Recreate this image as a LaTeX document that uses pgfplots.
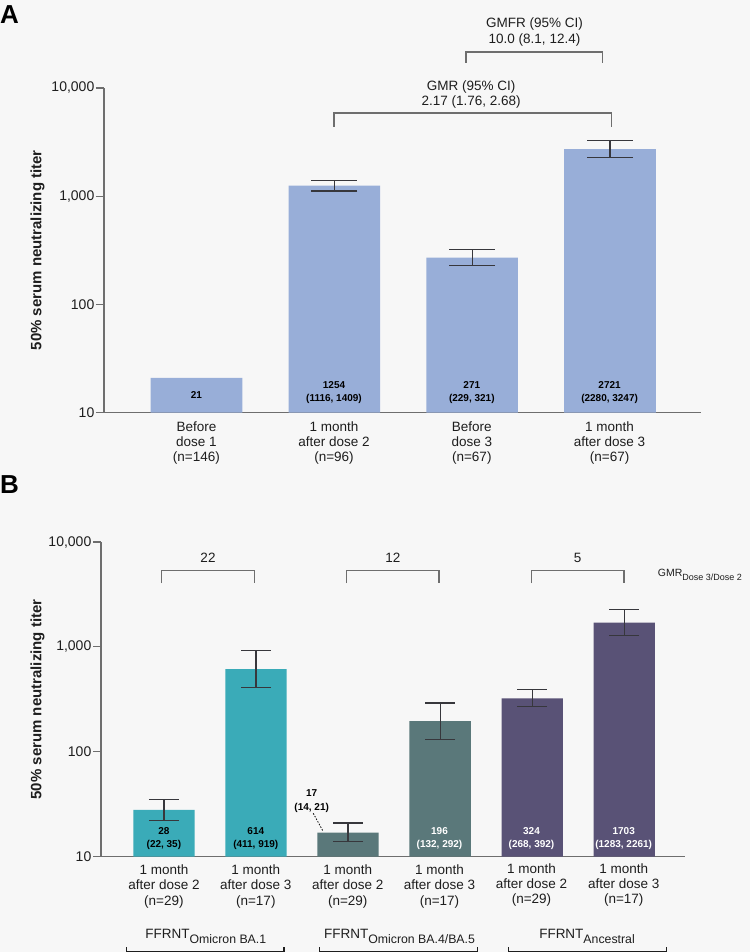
\documentclass[border=0pt]{standalone}
\usepackage{pgfplots}
\pgfplotsset{compat=1.18}
\usepackage{fontspec}
\setmainfont{Liberation Sans}
\definecolor{bg}{RGB}{247,247,247}
\definecolor{barA}{RGB}{152,174,216}
\definecolor{tealB}{RGB}{58,171,184}
\definecolor{grayB}{RGB}{90,120,122}
\definecolor{purpB}{RGB}{89,82,118}
\definecolor{axcol}{RGB}{110,110,110}
\definecolor{errcol}{RGB}{55,55,60}
\definecolor{txt}{RGB}{30,30,30}
\newcommand\fcat{\fontsize{13.5pt}{16pt}\selectfont}
\newcommand\fval{\fontsize{10pt}{12pt}\selectfont\bfseries}
\newcommand\ftick{\fontsize{14pt}{16pt}\selectfont}
\newcommand\fylab{\fontsize{15pt}{18pt}\selectfont\bfseries}
\newcommand\fpanel{\fontsize{26pt}{30pt}\selectfont\bfseries}
\newcommand\tl[3]{\node[anchor=base, inner sep=0, font=\fcat, text=txt] at (#1,-#2) {#3};}
\newcommand\vl[4]{\node[anchor=base, inner sep=0, font=\fval, text=#4] at (#1,-#2) {#3};}
\begin{document}
\begin{tikzpicture}[x=1pt,y=1pt]
\fill[bg] (0,0) rectangle (750,-952);
\useasboundingbox (0,0) rectangle (750,-952);
\begin{scope}
\clip (0,0) rectangle (750,-952);
% ---------------- Panel A ----------------
\begin{axis}[scale only axis, anchor=south west,
    at={(104pt,-412.7pt)}, width=597pt, height=324.7pt,
    xmin=-0.671, xmax=3.66,
    ymode=log, ymin=10, ymax=10000, log origin=infty,
    axis x line*=bottom, axis y line*=left,
    axis line style={axcol, line width=1.3pt, -},
    xtick=\empty,
    ytick={10,100,1000,10000},
    yticklabels={10,100,{1,000},{10,000}},
    yminorticks=false,
    tick align=outside, major tick length=8pt,
    tick style={axcol, line width=1.1pt},
    yticklabel style={font=\ftick, text=txt, inner sep=1.5pt},
    /pgf/number format/assume math mode=true]
\addplot[ybar, bar shift=0pt, bar width=91.6pt, fill=barA, draw=none]
  coordinates {(0,21) (1,1254) (2,271) (3,2721)};
\addplot[draw=none, mark=none, forget plot,
    error bars/.cd, y dir=both, y explicit,
    error bar style={errcol, line width=1.2pt},
    error mark options={rotate=90, errcol, line width=1.2pt, mark size=23pt}]
  coordinates {
  (1,1254) += (0,155) -= (0,138)
  (2,271) += (0,50) -= (0,42)
  (3,2721) += (0,526) -= (0,441)};
\end{axis}
\node[anchor=base west, inner sep=0, font=\fpanel] at (0,-24) {A};
\node[rotate=90, inner sep=0, font=\fylab, text=txt] at (37.5,-250.3) {50\% serum neutralizing titer};
% values
\vl{196.4}{398.6}{21}{black}
\vl{334}{388.6}{1254}{black}\vl{334}{401.9}{(1116, 1409)}{black}
\vl{471.8}{388.6}{271}{black}\vl{471.8}{401.9}{(229, 321)}{black}
\vl{609.6}{388.6}{2721}{black}\vl{609.6}{401.9}{(2280, 3247)}{black}
% categories
\tl{196.4}{431}{Before}\tl{196.4}{446.3}{dose 1}\tl{196.4}{461.6}{(n=146)}
\tl{334}{431}{1 month}\tl{334}{446.3}{after dose 2}\tl{334}{461.6}{(n=96)}
\tl{471.8}{431}{Before}\tl{471.8}{446.3}{dose 3}\tl{471.8}{461.6}{(n=67)}
\tl{609.6}{431}{1 month}\tl{609.6}{446.3}{after dose 3}\tl{609.6}{461.6}{(n=67)}
% brackets
\draw[axcol, line width=1.3pt] (334,-127) -- (334,-113) -- (611.7,-113) -- (611.7,-127);
\draw[axcol, line width=1.3pt] (466,-63) -- (466,-52) -- (602.7,-52) -- (602.7,-63);
\tl{534.5}{27.8}{GMFR (95\% CI)}\tl{534.5}{43.8}{10.0 (8.1, 12.4)}
\tl{471.2}{90.8}{GMR (95\% CI)}\tl{471.2}{105.8}{2.17 (1.76, 2.68)}
% ---------------- Panel B ----------------
\begin{axis}[scale only axis, anchor=south west,
    at={(101pt,-856.7pt)}, width=584pt, height=314.7pt,
    xmin=-0.684, xmax=5.66,
    ymode=log, ymin=10, ymax=10000, log origin=infty,
    axis x line*=bottom, axis y line*=left,
    axis line style={axcol, line width=1.3pt, -},
    xtick=\empty,
    ytick={10,100,1000,10000},
    yticklabels={10,100,{1,000},{10,000}},
    yminorticks=false,
    tick align=outside, major tick length=8pt,
    tick style={axcol, line width=1.1pt},
    yticklabel style={font=\ftick, text=txt, inner sep=1.5pt},
    /pgf/number format/assume math mode=true]
\addplot[ybar, bar shift=0pt, bar width=61.3pt, fill=tealB, draw=none]
  coordinates {(0,28) (1,614)};
\addplot[ybar, bar shift=0pt, bar width=61.3pt, fill=grayB, draw=none]
  coordinates {(2,17) (3,196)};
\addplot[ybar, bar shift=0pt, bar width=61.3pt, fill=purpB, draw=none]
  coordinates {(4,324) (5,1703)};
\addplot[draw=none, mark=none, forget plot,
    error bars/.cd, y dir=both, y explicit,
    error bar style={errcol, line width=1.2pt},
    error mark options={rotate=90, errcol, line width=1.2pt, mark size=15pt}]
  coordinates {
  (0,28) += (0,7) -= (0,6)
  (1,614) += (0,305) -= (0,203)
  (2,17) += (0,4) -= (0,3)
  (3,196) += (0,96) -= (0,64)
  (4,324) += (0,68) -= (0,56)
  (5,1703) += (0,558) -= (0,420)};
\end{axis}
\node[anchor=base west, inner sep=0, font=\fpanel] at (0,-493.3) {B};
\node[rotate=90, inner sep=0, font=\fylab, text=txt] at (37.5,-699.4) {50\% serum neutralizing titer};
% values
\vl{163.9}{834.1}{28}{black}\vl{163.9}{847.6}{(22, 35)}{black}
\vl{255.8}{834.1}{614}{black}\vl{255.8}{847.6}{(411, 919)}{black}
\vl{311.7}{796.9}{17}{black}\vl{311.7}{810.3}{(14, 21)}{black}
\draw[black, line width=0.8pt, dash pattern=on 1.5pt off 1.5pt] (313.3,-813.3) -- (323.3,-831.7);
\vl{439.5}{834.1}{196}{white}\vl{439.5}{847.6}{(132, 292)}{white}
\vl{531.5}{834.1}{324}{white}\vl{531.5}{847.6}{(268, 392)}{white}
\vl{623.7}{834.1}{1703}{white}\vl{623.7}{847.6}{(1283, 2261)}{white}
% categories
\tl{163.9}{874.8}{1 month}\tl{163.9}{889.8}{after dose 2}\tl{163.9}{905.3}{(n=29)}
\tl{255.8}{874.8}{1 month}\tl{255.8}{889.8}{after dose 3}\tl{255.8}{905.3}{(n=17)}
\tl{347.7}{874.8}{1 month}\tl{347.7}{889.8}{after dose 2}\tl{347.7}{905.3}{(n=29)}
\tl{439.5}{874.8}{1 month}\tl{439.5}{889.8}{after dose 3}\tl{439.5}{905.3}{(n=17)}
\tl{531.5}{873.3}{1 month}\tl{531.5}{888.3}{after dose 2}\tl{531.5}{903.8}{(n=29)}
\tl{623.7}{873.3}{1 month}\tl{623.7}{888.3}{after dose 3}\tl{623.7}{903.8}{(n=17)}
% GMR brackets
\draw[axcol, line width=1.3pt] (161.3,-583) -- (161.3,-570.7) -- (254.6,-570.7) -- (254.6,-583);
\draw[axcol, line width=1.3pt] (346.6,-583) -- (346.6,-570.7) -- (439,-570.7) -- (439,-583);
\draw[axcol, line width=1.3pt] (531.5,-583) -- (531.5,-570.7) -- (624,-570.7) -- (624,-583);
\tl{208}{562.6}{22}\tl{392.8}{562.6}{12}\tl{577.7}{562.6}{5}
\node[anchor=base west, inner sep=0, font=\fontsize{10.5pt}{12pt}\selectfont, text=txt] at (657.7,-576.7)
  {GMR{\fontsize{9pt}{11pt}\selectfont\raisebox{-3.5pt}{Dose 3/Dose 2}}};
% group labels
\node[anchor=base, inner sep=0, font=\fcat, text=txt] at (205.8,-938.7)
  {FFRNT{\fontsize{12.3pt}{14pt}\selectfont\raisebox{-4.3pt}{Omicron BA.1}}};
\node[anchor=base, inner sep=0, font=\fcat, text=txt] at (399.5,-938.7)
  {FFRNT{\fontsize{12.3pt}{14pt}\selectfont\raisebox{-4.3pt}{Omicron BA.4/BA.5}}};
\node[anchor=base, inner sep=0, font=\fcat, text=txt] at (587,-938.7)
  {FFRNT{\fontsize{12.3pt}{14pt}\selectfont\raisebox{-4.3pt}{Ancestral}}};
\draw[txt, line width=1.2pt] (126.7,-947) -- (126.7,-951.3) -- (284,-951.3) -- (284,-947);
\draw[txt, line width=1.2pt] (319.3,-947) -- (319.3,-951.3) -- (477.2,-951.3) -- (477.2,-947);
\draw[txt, line width=1.2pt] (508.3,-947) -- (508.3,-951.3) -- (666.2,-951.3) -- (666.2,-947);
\end{scope}
\end{tikzpicture}
\end{document}
